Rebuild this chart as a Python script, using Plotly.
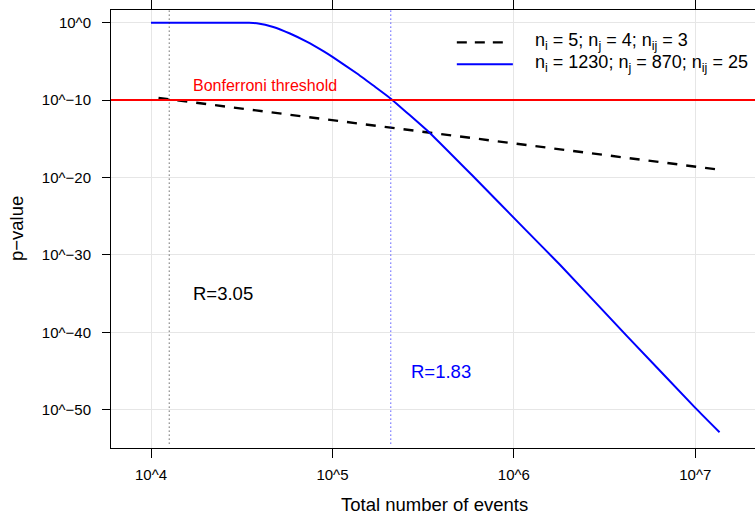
import plotly.graph_objects as go

# ---------------- data ----------------
# Series 1: n_i = 5; n_j = 4; n_ij = 3  (black dashed)
events_small = [11000, 100000, 201000, 1000000, 2320000, 13700000]
log10p_small = [-9.72, -12.6, -13.5, -15.6, -16.72, -19.0]

# Series 2: n_i = 1230; n_j = 870; n_ij = 25  (blue solid)
events_large = [10000, 20000, 30900, 34700, 38300, 47200, 58300, 72100, 89100,
                101000, 136000, 168000, 208000, 345000, 598000, 1150000,
                1800000, 4190000, 10000000, 13600000]
log10p_large = [0, 0, 0, -0.02, -0.08, -0.55, -1.4, -2.45, -3.68,
                -4.48, -6.53, -8.12, -9.75, -14.27, -19.87, -26.66,
                -31.3, -40.45, -49.75, -52.9]

bonferroni_log10p = -10
r_small_events = 12600      # black dotted vertical line
r_large_events = 209700     # blue dotted vertical line

x_tick_exponents = [4, 5, 6, 7]
y_tick_exponents = [0, -10, -20, -30, -40, -50]
x_tick_labels = ["10^%d" % e for e in x_tick_exponents]
y_tick_labels = [("10^%d" % e).replace("-", "\u2212") for e in y_tick_exponents]

legend_labels = ["n<sub>i</sub> = 5; n<sub>j</sub> = 4; n<sub>ij</sub> = 3",
                 "n<sub>i</sub> = 1230; n<sub>j</sub> = 870; n<sub>ij</sub> = 25"]

FONT = "Liberation Sans, Arial, Helvetica, sans-serif"

fig = go.Figure()
fig.add_trace(go.Scatter(
    x=events_small, y=[10 ** v for v in log10p_small], mode="lines",
    line=dict(color="black", width=2.4, dash="10px,9px"),
    showlegend=False, hoverinfo="skip"))
fig.add_trace(go.Scatter(
    x=events_large, y=[10 ** v for v in log10p_large], mode="lines",
    line=dict(color="#0000ff", width=2, shape="spline", smoothing=0.4),
    showlegend=False, hoverinfo="skip"))

# Bonferroni threshold
fig.add_shape(type="line", xref="paper", x0=0, x1=1, yref="y",
              y0=10 ** bonferroni_log10p, y1=10 ** bonferroni_log10p,
              line=dict(color="#ff0000", width=2))
# dotted vertical lines
fig.add_shape(type="line", xref="x", x0=r_small_events, x1=r_small_events,
              yref="paper", y0=0.01, y1=1,
              line=dict(color="#222222", width=1, dash="1px,3px"))
fig.add_shape(type="line", xref="x", x0=r_large_events, x1=r_large_events,
              yref="paper", y0=0.01, y1=1,
              line=dict(color="#0000ff", width=1, dash="1px,3px"))

# legend (manual)
fig.add_shape(type="line", xref="paper", yref="paper", x0=0.537, x1=0.613,
              y0=0.926, y1=0.926, line=dict(color="black", width=2.4, dash="10px,8px"))
fig.add_shape(type="line", xref="paper", yref="paper", x0=0.537, x1=0.624,
              y0=0.876, y1=0.876, line=dict(color="#0000ff", width=2))
for lbl, yy in zip(legend_labels, [0.928, 0.878]):
    fig.add_annotation(xref="paper", yref="paper", x=0.655, y=yy, text=lbl,
                       showarrow=False, xanchor="left", yanchor="middle",
                       font=dict(family=FONT, size=18, color="black"))

# text annotations (log axes -> log10 units)
fig.add_annotation(x=4.628, y=-8.17, text="Bonferroni threshold", showarrow=False,
                   font=dict(family=FONT, size=16, color="#ff0000"))
fig.add_annotation(x=4.397, y=-35, text="R=3.05", showarrow=False,
                   font=dict(family=FONT, size=18.5, color="black"))
fig.add_annotation(x=5.599, y=-45, text="R=1.83", showarrow=False,
                   font=dict(family=FONT, size=18.5, color="#0000ff"))

# axis titles
fig.add_annotation(xref="paper", yref="paper", x=0.5023, y=-0.130,
                   text="Total number of events", showarrow=False,
                   xanchor="center", yanchor="middle",
                   font=dict(family=FONT, size=18.5, color="black"))
fig.add_annotation(xref="paper", yref="paper", x=-0.1475, y=0.5,
                   text="p\u2212value", showarrow=False, textangle=-90,
                   xanchor="center", yanchor="middle",
                   font=dict(family=FONT, size=18.5, color="black"))

fig.update_xaxes(type="log", range=[3.7795, 7.329],
                 tickvals=[10 ** e for e in x_tick_exponents], ticktext=x_tick_labels,
                 showgrid=True, gridcolor="#e6e6e6", gridwidth=1,
                 showline=True, linecolor="black", linewidth=1, mirror="ticks",
                 ticks="outside", ticklen=9, tickcolor="black", tickwidth=1,
                 ticklabelstandoff=4,
                 tickfont=dict(family=FONT, size=15, color="black"), zeroline=False)
fig.update_yaxes(type="log", range=[-54.94, 1.64],
                 tickvals=[10.0 ** e for e in y_tick_exponents], ticktext=y_tick_labels,
                 showgrid=True, gridcolor="#e6e6e6", gridwidth=1,
                 showline=True, linecolor="black", linewidth=1, mirror=False,
                 ticks="outside", ticklen=8, tickcolor="black", tickwidth=1,
                 ticklabelstandoff=8,
                 tickfont=dict(family=FONT, size=15, color="black"), zeroline=False)

fig.update_layout(width=755, height=518, autosize=False,
                  margin=dict(l=111, r=0, t=10, b=70, pad=0),
                  plot_bgcolor="white", paper_bgcolor="white",
                  showlegend=False)

fig.write_html("out.html",
               config={"displayModeBar": False},
               post_script="document.body.style.margin='0';"
                           "document.body.style.overflow='hidden';")
